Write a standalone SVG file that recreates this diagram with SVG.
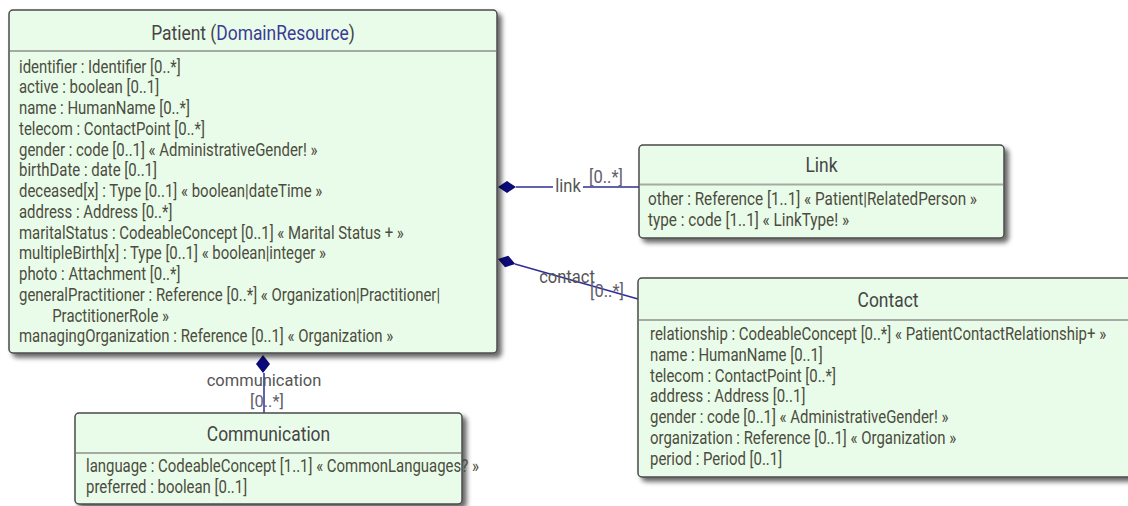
<svg xmlns="http://www.w3.org/2000/svg" width="1128" height="506" viewBox="0 0 1128 506">
<defs>
<filter id="sh" x="-5%" y="-5%" width="115%" height="125%">
<feGaussianBlur in="SourceAlpha" stdDeviation="2.5"/>
<feOffset dx="4" dy="4"/>
<feComponentTransfer><feFuncA type="linear" slope="0.6"/></feComponentTransfer>
<feMerge><feMergeNode/><feMergeNode in="SourceGraphic"/></feMerge>
</filter>
</defs>
<style>
.box{fill:#e9fce9;stroke:#4a4a4a;stroke-width:1.5;filter:url(#sh)}
.div{stroke:#a3aba3;stroke-width:2}
text{font-family:Roboto,"Liberation Sans",sans-serif}
.title{font-size:21px;fill:#454545}
.lnk{fill:#3b3b96}
.attr text{font-size:18px;fill:#4c4c40}
.conn{stroke:#2e2e96;stroke-width:1.5;fill:none}
.dia{fill:#0a0a78}
.lbl{font-size:19px;fill:#555}
.mult{font-size:19px;fill:#60606e}
.lbl2{font-size:17px;fill:#555}
.mult2{font-size:17px;fill:#60606e}
</style>
<rect width="1128" height="506" fill="#ffffff"/>

<g id="connectors">
<polygon class="dia" points="498,187 507,181 516,187 507,193"/>
<line class="conn" x1="516" y1="187" x2="553" y2="187"/>
<line class="conn" x1="583" y1="187" x2="639" y2="187"/>
<polygon class="dia" points="498,259 508.3,255.7 515.3,263.9 505,267.3"/>
<line class="conn" x1="515" y1="264" x2="638" y2="299"/>
<polygon class="dia" points="263,355 270,364 263,373 256,364"/>
<line class="conn" x1="264" y1="373" x2="264" y2="413"/>
<g transform="translate(568,192) scale(0.87,1)"><text class="lbl" x="0" y="0" text-anchor="middle">link</text></g>
<g transform="translate(606,183) scale(0.87,1)"><text class="mult" x="0" y="0" text-anchor="middle">[0..*]</text></g>
<g transform="translate(567,283) scale(0.87,1)"><text class="lbl" x="0" y="0" text-anchor="middle">contact</text></g>
<g transform="translate(607,297) scale(0.87,1)"><text class="mult" x="0" y="0" text-anchor="middle">[0..*]</text></g>
<g transform="translate(264,386) scale(0.97,1)"><text class="lbl2" x="0" y="0" text-anchor="middle">communication</text></g>
<g transform="translate(267,407) scale(0.97,1)"><text class="mult2" x="0" y="0" text-anchor="middle">[0..*]</text></g>
</g>

<g id="patient">
<rect class="box" x="9" y="10" width="488" height="343" rx="4"/>
<line class="div" x1="10" y1="51" x2="496" y2="51"/>
<g transform="translate(253,40) scale(0.83,1)"><text class="title" x="0" y="0" text-anchor="middle">Patient (<tspan class="lnk">DomainResource</tspan>)</text></g>
<g class="attr" transform="translate(19,0) scale(0.83,1)">
<text x="0" y="72.7">identifier : Identifier [0..*]</text>
<text x="0" y="93.5">active : boolean [0..1]</text>
<text x="0" y="114.2">name : HumanName [0..*]</text>
<text x="0" y="135">telecom : ContactPoint [0..*]</text>
<text x="0" y="155.7">gender : code [0..1] « AdministrativeGender! »</text>
<text x="0" y="176.5">birthDate : date [0..1]</text>
<text x="0" y="197.2">deceased[x] : Type [0..1] « boolean|dateTime »</text>
<text x="0" y="218">address : Address [0..*]</text>
<text x="0" y="238.7">maritalStatus : CodeableConcept [0..1] « Marital Status + »</text>
<text x="0" y="259.5">multipleBirth[x] : Type [0..1] « boolean|integer »</text>
<text x="0" y="280.2">photo : Attachment [0..*]</text>
<text x="0" y="301">generalPractitioner : Reference [0..*] « Organization|Practitioner|</text>
<text x="40" y="321.7">PractitionerRole »</text>
<text x="0" y="342.5">managingOrganization : Reference [0..1] « Organization »</text>
</g>
</g>

<g id="link">
<rect class="box" x="639" y="145" width="365" height="93" rx="4"/>
<line class="div" x1="640" y1="184.5" x2="1003" y2="184.5"/>
<g transform="translate(821.5,172) scale(0.83,1)"><text class="title" x="0" y="0" text-anchor="middle">Link</text></g>
<g class="attr" transform="translate(648,0) scale(0.85,1)">
<text x="0" y="205">other : Reference [1..1] « Patient|RelatedPerson »</text>
<text x="0" y="226">type : code [1..1] « LinkType! »</text>
</g>
</g>

<g id="contact">
<rect class="box" x="638" y="278" width="500" height="199" rx="4"/>
<line class="div" x1="639" y1="320" x2="1128" y2="320"/>
<g transform="translate(888,307) scale(0.83,1)"><text class="title" x="0" y="0" text-anchor="middle">Contact</text></g>
<g class="attr" transform="translate(650,0) scale(0.83,1)">
<text x="0" y="340">relationship : CodeableConcept [0..*] « PatientContactRelationship+ »</text>
<text x="0" y="360.8">name : HumanName [0..1]</text>
<text x="0" y="381.6">telecom : ContactPoint [0..*]</text>
<text x="0" y="402.4">address : Address [0..1]</text>
<text x="0" y="423.2">gender : code [0..1] « AdministrativeGender! »</text>
<text x="0" y="444">organization : Reference [0..1] « Organization »</text>
<text x="0" y="464.8">period : Period [0..1]</text>
</g>
</g>

<g id="communication">
<rect class="box" x="75" y="413" width="387" height="91" rx="4"/>
<line class="div" x1="76" y1="453" x2="461" y2="453"/>
<g transform="translate(268.5,441) scale(0.83,1)"><text class="title" x="0" y="0" text-anchor="middle">Communication</text></g>
<g class="attr" transform="translate(86,0) scale(0.83,1)">
<text x="0" y="472.5">language : CodeableConcept [1..1] « CommonLanguages? »</text>
<text x="0" y="493.5">preferred : boolean [0..1]</text>
</g>
</g>
</svg>
